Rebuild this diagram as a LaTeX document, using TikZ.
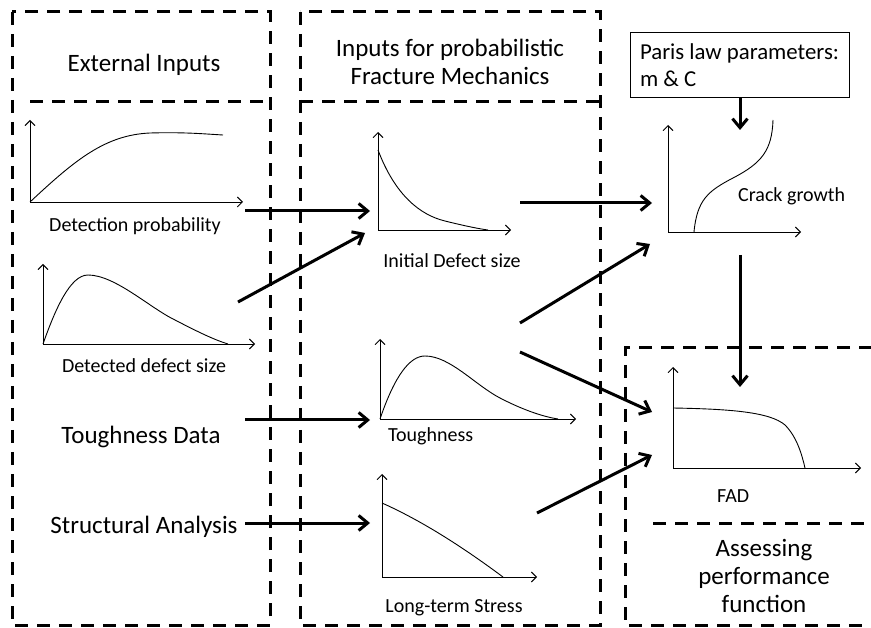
\documentclass[tikz,border=0pt]{standalone}
\usepackage{fontspec}
\setmainfont{Carlito}
\usetikzlibrary{arrows.meta,positioning}

\tikzset{
  zone/.style={line width=3pt, dash pattern=on 13pt off 9pt},
  flow/.style={line width=3pt, -{Straight Barb[length=9pt,width=15pt]}},
  axis/.style={line width=0.9pt, -{Straight Barb[length=5pt,width=10pt]}},
  curve/.style={line width=0.9pt},
  head/.style={font=\fontsize{25}{28}\selectfont, align=center, inner sep=0pt},
  lbl/.style={font=\fontsize{20}{24}\selectfont, inner sep=0pt, anchor=base},
}

\begin{document}
\begin{tikzpicture}[x=1pt,y=-1pt]
\useasboundingbox (0,0) rectangle (871,628);

% dashed zones
\draw [zone] (12,12) rectangle (270,625);
\draw [zone] (30,102) -- (270,102);
\draw [zone] (300,12) rectangle (600,625);
\draw [zone] (300,102) -- (600,102);
\draw [zone] (872,348) -- (625,348) -- (625,625) -- (872,625);
\draw [zone] (653,523) -- (872,523);

\node [head, anchor=base] (ext) at (144,72) {External Inputs};
\node [head] (pfm) at (450,62) {Inputs for probabilistic\\Fracture Mechanics};
\node [head] (apf) at (764,576) {Assessing\\performance\\function};

% detection probability
\draw [axis] (30,202) -- (30,120);
\draw [axis] (30,202) -- (243,202);
\draw [curve] (30,202) .. controls (75,160) and (105,135) .. (150,133) .. controls (185,132) and (205,134) .. (223,135);
\node [lbl] (detp) at (135,232) {Detection probability};

% detected defect size
\draw [axis] (43,344) -- (43,264);
\draw [axis] (43,344) -- (255,344);
\draw [curve] (43,344) .. controls (55,310) and (70,275) .. (88,275) .. controls (115,275) and (150,308) .. (175,320) .. controls (200,333) and (215,340) .. (228,344);
\node [lbl] (dds) at (144,373) {Detected defect size};

\node [lbl, font=\fontsize{25}{28}\selectfont] (tdata) at (141,444) {Toughness Data};
\node [lbl, font=\fontsize{25}{28}\selectfont] (sana) at (144,533) {Structural Analysis};

% initial defect size
\draw [axis] (378,230) -- (378,132);
\draw [axis] (378,230) -- (511,230);
\draw [curve] (378,150) .. controls (395,195) and (420,215) .. (445,221) .. controls (465,226) and (480,229) .. (488,230);
\node [lbl] (ids) at (452,268) {Initial Defect size};

% toughness
\draw [axis] (380,419) -- (380,339);
\draw [axis] (380,419) -- (576,419);
\draw [curve] (380,419) .. controls (395,375) and (410,356) .. (425,356) .. controls (450,356) and (475,385) .. (500,398) .. controls (525,411) and (545,417) .. (558,419);
\node [lbl, anchor=base west] (tough) at (388,442) {Toughness};

% long-term stress
\draw [axis] (382,577) -- (382,474);
\draw [axis] (382,577) -- (537,577);
\draw [curve] (382,503) .. controls (420,520) and (460,545) .. (503,577);
\node [lbl] (lts) at (454,612) {Long-term Stress};

% paris law and crack growth
\node [draw, line width=1pt, minimum width=219pt, minimum height=65pt, inner sep=0pt, align=left, font=\fontsize{22.8}{27}\selectfont] (paris) at (739.5,65.5) {Paris law parameters:\\m \& C};
\draw [axis] (668,232) -- (668,125);
\draw [axis] (668,232) -- (801,232);
\draw [curve] (694,232) .. controls (697,200) and (708,191) .. (733,178) .. controls (762,163) and (772,150) .. (773,120);
\node [lbl, anchor=base west] (cg) at (738,202) {Crack growth};

% FAD
\draw [axis] (673,468) -- (673,367);
\draw [axis] (673,468) -- (861,468);
\draw [curve] (673,408) .. controls (730,409) and (770,412) .. (785,425) .. controls (797,437) and (802,455) .. (805,468);
\node [lbl, anchor=base west] (fad) at (717,503) {FAD};

% arrow ends
\coordinate (dp1) at (245,211);
\coordinate (dp2) at (370,211);
\coordinate (dd1) at (238,302);
\coordinate (dd2) at (365,233);
\coordinate (td1) at (245,420);
\coordinate (td2) at (370,420);
\coordinate (sa1) at (245,523);
\coordinate (sa2) at (370,523);
\coordinate (id1) at (520,203);
\coordinate (id2) at (652,203);
\coordinate (mid1) at (520,323);
\coordinate (mid2) at (650,244);
\coordinate (to1) at (520,352);
\coordinate (to2) at (652,412);
\coordinate (ls1) at (537,513);
\coordinate (ls2) at (652,455);
\coordinate (cgin) at (740,130);
\coordinate (cg1) at (740,255);
\coordinate (cg2) at (740,387);

\draw [flow] (dp1) -- (dp2);
\draw [flow] (dd1) -- (dd2);
\draw [flow] (td1) -- (td2);
\draw [flow] (sa1) -- (sa2);
\draw [flow] (id1) -- (id2);
\draw [flow] (mid1) -- (mid2);
\draw [flow] (to1) -- (to2);
\draw [flow] (ls1) -- (ls2);
\draw [flow] (paris.south -| cgin) -- (cgin);
\draw [flow] (cg1) -- (cg2);
\end{tikzpicture}
\end{document}
